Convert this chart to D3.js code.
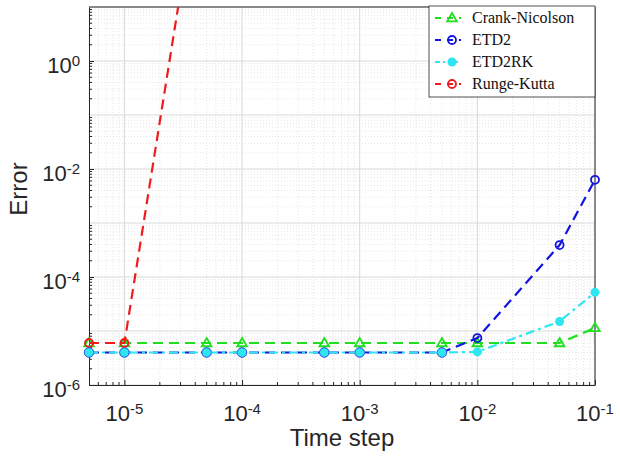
<!DOCTYPE html>
<html>
<head>
<meta charset="utf-8">
<script src="https://cdn.jsdelivr.net/npm/d3@7"></script>
<style>
  body { margin: 0; background: #fff; }
  svg { display: block; font-family: "Liberation Sans", Arial, sans-serif; }
  .grid-major line { stroke: #d9d9d9; stroke-width: 1; }
  .grid-minor line { stroke: #e6e6e6; stroke-width: 1; stroke-dasharray: 1,2; }
</style>
</head>
<body>
<svg id="chart" width="620" height="460"></svg>
<script>
// time steps and errors
var timeSteps = [5e-6, 1e-5, 5e-5, 1e-4, 5e-4, 1e-3, 5e-3, 1e-2, 5e-2, 1e-1];
var crankNicolson = [6e-6, 6e-6, 6e-6, 6e-6, 6e-6, 6e-6, 6e-6, 6e-6, 6e-6, 1.14e-5];
var etd2 = [4e-6, 4e-6, 4e-6, 4e-6, 4e-6, 4e-6, 4e-6, 7.4e-6, 3.9e-4, 6.3e-3];
var etd2rk = [4e-6, 4e-6, 4e-6, 4e-6, 4e-6, 4e-6, 4e-6, 4.1e-6, 1.5e-5, 5.2e-5];
var rkSteps = [5e-6, 1e-5, 5e-5];
var rungeKutta = [6e-6, 6e-6, 2e4];
var xTicks = [1e-5, 1e-4, 1e-3, 1e-2, 1e-1];
var yTicks = [1e-6, 1e-4, 1e-2, 1e0];

var svg = d3.select("#chart"),
    margin = {top: 7, right: 25, bottom: 75, left: 89},
    width = 620 - margin.left - margin.right,
    height = 460 - margin.top - margin.bottom,
    g = svg.append("g").attr("transform", "translate(" + margin.left + "," + margin.top + ")");

var x = d3.scaleLog().domain([5e-6, 1e-1]).range([0, width]);
var y = d3.scaleLog().domain([1e-6, 10]).range([height, 0]);

// minor ticks: 2..9 per decade
var xMinor = [], yMinor = [];
for (var e = -6; e <= 0; e++) for (var m = 1; m <= 9; m++) {
  var v = m * Math.pow(10, e);
  if (v > 5e-6 && v < 1e-1 && m > 1) xMinor.push(v);
  if (v > 1e-6 && v < 10 && m > 1) yMinor.push(v);
}
var yMajorGrid = [1e-6, 1e-5, 1e-4, 1e-3, 1e-2, 1e-1, 1e0, 1e1];

g.append("g").attr("class", "grid-minor")
  .selectAll("line.v").data(xMinor).enter().append("line")
    .attr("x1", function(d) { return x(d); }).attr("x2", function(d) { return x(d); })
    .attr("y1", 0).attr("y2", height);
g.append("g").attr("class", "grid-minor")
  .selectAll("line.h").data(yMinor).enter().append("line")
    .attr("y1", function(d) { return y(d); }).attr("y2", function(d) { return y(d); })
    .attr("x1", 0).attr("x2", width);
g.append("g").attr("class", "grid-major")
  .selectAll("line").data(xTicks).enter().append("line")
    .attr("x1", function(d) { return x(d); }).attr("x2", function(d) { return x(d); })
    .attr("y1", 0).attr("y2", height);
g.append("g").attr("class", "grid-major")
  .selectAll("line").data(yMajorGrid).enter().append("line")
    .attr("y1", function(d) { return y(d); }).attr("y2", function(d) { return y(d); })
    .attr("x1", 0).attr("x2", width);

// axes box with inward ticks
function supLabel(sel, d) {
  var p = Math.round(Math.log10(d));
  sel.text("10");
  sel.append("tspan").attr("dy", "-0.5em").attr("font-size", "15px").text(p);
}

var xAxis = g.append("g").attr("transform", "translate(0," + height + ")")
  .call(d3.axisBottom(x).tickValues(xTicks).tickSizeInner(-5).tickSizeOuter(0).tickFormat(""));
var yAxis = g.append("g")
  .call(d3.axisLeft(y).tickValues(yTicks).tickSizeInner(-5).tickSizeOuter(0).tickFormat(""));
[xAxis, yAxis].forEach(function(a) {
  a.select(".domain").attr("stroke", "#262626");
  a.selectAll(".tick line").attr("stroke", "#262626");
});
g.append("g").selectAll("line").data(xMinor).enter().append("line")
  .attr("x1", function(d) { return x(d); }).attr("x2", function(d) { return x(d); })
  .attr("y1", height).attr("y2", height - 3).attr("stroke", "#262626");
g.append("g").selectAll("line").data(yMinor).enter().append("line")
  .attr("y1", function(d) { return y(d); }).attr("y2", function(d) { return y(d); })
  .attr("x1", 0).attr("x2", 3).attr("stroke", "#262626");
g.append("line").attr("x1", width).attr("x2", width).attr("y1", 0).attr("y2", height).attr("stroke", "#262626");
g.append("line").attr("x1", 0).attr("x2", width).attr("y1", 0).attr("y2", 0).attr("stroke", "#262626");

g.append("g").selectAll("text").data(xTicks).enter().append("text")
  .attr("x", function(d) { return x(d); })
  .attr("y", height + 36)
  .attr("text-anchor", "middle")
  .attr("font-size", "22px")
  .attr("fill", "#262626")
  .each(function(d) { supLabel(d3.select(this), d); });

g.append("g").selectAll("text").data(yTicks).enter().append("text")
  .attr("x", -9)
  .attr("y", function(d) { return y(d) + 12; })
  .attr("text-anchor", "end")
  .attr("font-size", "22px")
  .attr("fill", "#262626")
  .each(function(d) { supLabel(d3.select(this), d); });

svg.append("text")
  .attr("x", margin.left + width / 2)
  .attr("y", 446)
  .attr("text-anchor", "middle")
  .attr("font-size", "24px")
  .attr("fill", "#262626")
  .text("Time step");

svg.append("text")
  .attr("transform", "translate(27,189) rotate(-90)")
  .attr("text-anchor", "middle")
  .attr("font-size", "24px")
  .attr("fill", "#262626")
  .text("Error");

// series
g.append("clipPath").attr("id", "clip").append("rect")
  .attr("x", -8).attr("y", 0).attr("width", width + 16).attr("height", height + 8);

var series = [
  {name: "Crank-Nicolson", xs: timeSteps, ys: crankNicolson, color: "#1fe01f", dash: "10,6", marker: "tri"},
  {name: "ETD2", xs: timeSteps, ys: etd2, color: "#1414e0", dash: "10,6", marker: "circle"},
  {name: "ETD2RK", xs: timeSteps, ys: etd2rk, color: "#2ee6f2", dash: "9,4,3,4", marker: "dot"},
  {name: "Runge-Kutta", xs: rkSteps, ys: rungeKutta, color: "#ee1c1c", dash: "10,6", marker: "circle"}
];

var line = d3.line()
  .x(function(d) { return x(d[0]); })
  .y(function(d) { return y(d[1]); });

function drawMarker(sel, s, px, py) {
  if (s.marker === "tri") {
    sel.append("path")
      .attr("d", d3.symbol().type(d3.symbolTriangle).size(40)())
      .attr("transform", "translate(" + px + "," + (py + 0.5) + ")")
      .attr("fill", "none").attr("stroke", s.color).attr("stroke-width", 1.8);
  } else if (s.marker === "circle") {
    sel.append("circle").attr("cx", px).attr("cy", py).attr("r", 4)
      .attr("fill", "none").attr("stroke", s.color).attr("stroke-width", 1.8);
  } else {
    sel.append("circle").attr("cx", px).attr("cy", py).attr("r", 4.5)
      .attr("fill", s.color).attr("stroke", "none");
  }
}

var plot = g.append("g").attr("clip-path", "url(#clip)");
series.forEach(function(s) {
  var pts = s.xs.map(function(t, i) { return [t, s.ys[i]]; });
  plot.append("path").datum(pts)
    .attr("d", line)
    .attr("fill", "none")
    .attr("stroke", s.color)
    .attr("stroke-width", 2.2)
    .attr("stroke-dasharray", s.dash);
  var mg = plot.append("g");
  pts.forEach(function(p) {
    if (y(p[1]) < 0) return;
    drawMarker(mg, s, x(p[0]), y(p[1]));
  });
});
// blue outline of ETD2 circles shows round the filled cyan dots
plot.append("g").selectAll("circle").data(timeSteps.slice(0, 7)).enter().append("circle")
  .attr("cx", function(d) { return x(d); })
  .attr("cy", function(d, i) { return y(etd2[i]); })
  .attr("r", 4.8).attr("fill", "none").attr("stroke", "#3a5ae8").attr("stroke-width", 0.8);

// legend
var lg = svg.append("g").attr("transform", "translate(429,6)");
lg.append("rect").attr("width", 166).attr("height", 91)
  .attr("fill", "#fff").attr("stroke", "#262626").attr("stroke-width", 0.8);
series.forEach(function(s, i) {
  var ly = 12 + i * 22;
  lg.append("line").attr("x1", 6).attr("x2", 32).attr("y1", ly).attr("y2", ly)
    .attr("stroke", s.color).attr("stroke-width", 2).attr("stroke-dasharray", s.dash === "9,4,3,4" ? "5,3,2,3" : "6,6");
  drawMarker(lg, s, 23, ly);
  lg.append("text").attr("x", 43).attr("y", ly + 5)
    .attr("font-family", "'Liberation Serif', 'DejaVu Serif', serif")
    .attr("font-size", "16px").attr("fill", "#111")
    .text(s.name);
});
</script>
</body>
</html>
